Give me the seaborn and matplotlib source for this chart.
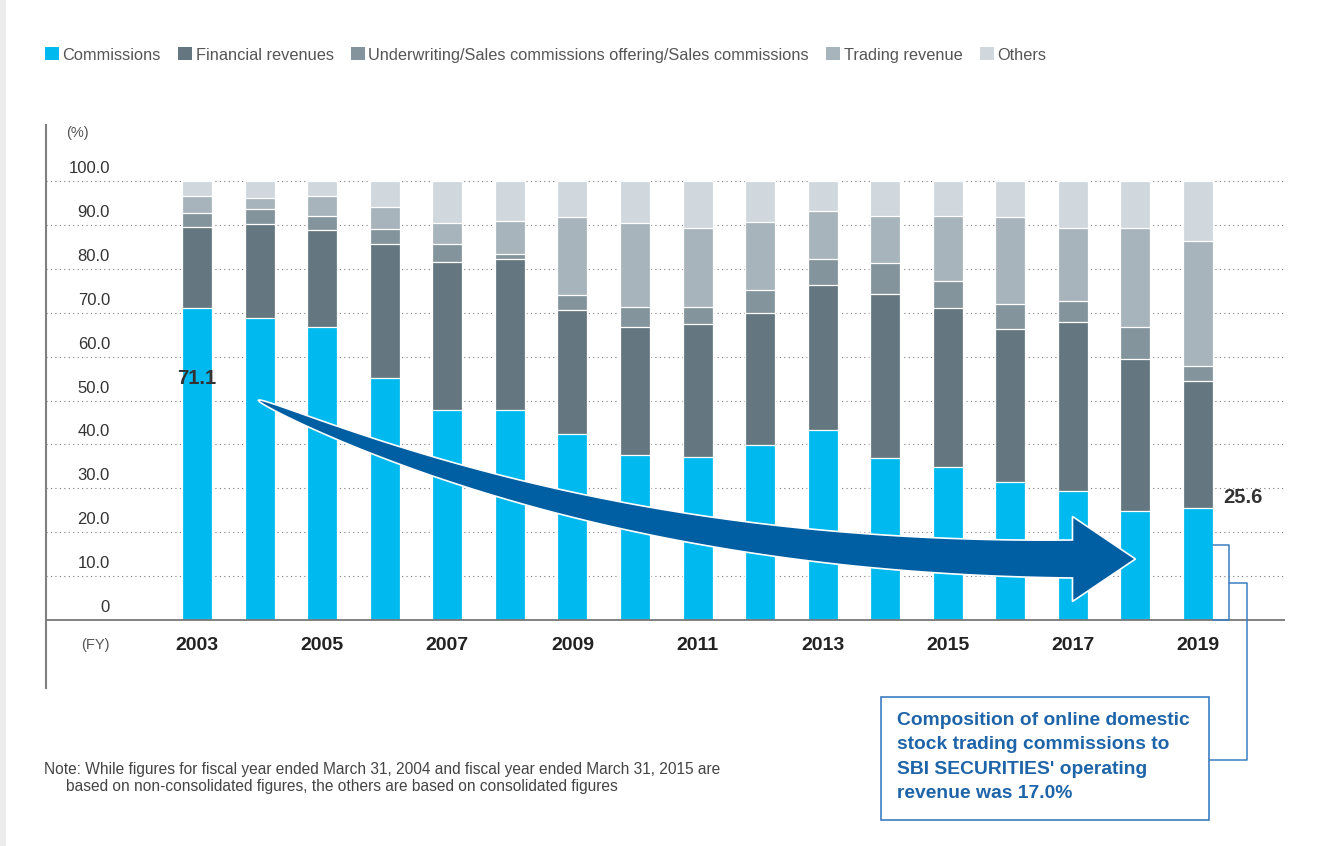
import numpy as np
import pandas as pd
import matplotlib
matplotlib.use("Agg")
import matplotlib.pyplot as plt
import matplotlib.transforms as mtransforms
from matplotlib.patches import Polygon, Rectangle, Patch
import seaborn as sns

# ---------------- data ----------------
years = [str(y) for y in range(2003, 2020)]
commissions = [71.1, 68.9, 66.7, 55.2, 47.9, 47.8, 42.3, 37.6, 37.2, 39.9, 43.3, 36.9, 34.8, 31.4, 29.5, 24.9, 25.6]
financial = [18.5, 21.4, 22.1, 30.5, 33.7, 34.5, 28.3, 29.2, 30.3, 30.1, 33.1, 37.4, 36.3, 35.0, 38.4, 34.6, 28.9]
underwriting = [3.1, 3.4, 3.3, 3.4, 4.0, 1.0, 3.4, 4.4, 3.9, 5.1, 5.9, 7.0, 6.2, 5.5, 4.8, 7.2, 3.4]
trading = [3.8, 2.5, 4.4, 5.0, 4.9, 7.7, 17.9, 19.2, 18.0, 15.5, 10.9, 10.8, 14.8, 20.0, 16.6, 22.7, 28.5]
others = [3.5, 3.8, 3.5, 5.9, 9.5, 9.0, 8.1, 9.6, 10.6, 9.4, 6.8, 7.9, 7.9, 8.1, 10.7, 10.6, 13.6]

series_names = ["Commissions", "Financial revenues",
                "Underwriting/Sales commissions offering/Sales commissions",
                "Trading revenue", "Others"]
series_colors = ["#00B9EE", "#647780", "#84949C", "#A8B4BB", "#D0D8DD"]

y_ticks = [0, 10, 20, 30, 40, 50, 60, 70, 80, 90, 100]
y_tick_labels = ["0", "10.0", "20.0", "30.0", "40.0", "50.0", "60.0", "70.0", "80.0", "90.0", "100.0"]
x_tick_years = ["2003", "2005", "2007", "2009", "2011", "2013", "2015", "2017", "2019"]

online_share_2019 = 17.0
note_line1 = "Note: While figures for fiscal year ended March 31, 2004 and fiscal year ended March 31, 2015 are"
note_line2 = "based on non-consolidated figures, the others are based on consolidated figures"
box_text = ("Composition of online domestic\nstock trading commissions to\n"
            "SBI SECURITIES' operating\nrevenue was 17.0%")

# ---------------- style ----------------
sns.set_style("white")
plt.rcParams["font.family"] = ["Liberation Sans", "DejaVu Sans"]
NARROW = ["Liberation Sans Narrow", "Liberation Sans", "DejaVu Sans"]

W, H = 1319, 846
fig = plt.figure(figsize=(W / 100, H / 100), dpi=100)
fig.patch.set_facecolor("white")
fig.add_artist(Rectangle((0, 0), 6 / W, 1, transform=fig.transFigure,
                         facecolor="#ececec", edgecolor="none", zorder=-1))

ax = fig.add_axes([46 / W, (H - 688) / H, (1285 - 46) / W, (688 - 125) / H])
ax.set_facecolor("none")

df = pd.DataFrame({"year": years, series_names[0]: commissions, series_names[1]: financial,
                   series_names[2]: underwriting, series_names[3]: trading,
                   series_names[4]: others})
cum = df[series_names].cumsum(axis=1)

BAR_W = 0.48
for name, col in reversed(list(zip(series_names, series_colors))):
    sns.barplot(x=df["year"], y=cum[name], color=col, width=BAR_W, saturation=1,
                errorbar=None, edgecolor="white", linewidth=0.9, ax=ax, zorder=2)

ax.set_xlim(-2.414, 17.39)
ax.set_ylim(-15.49, 112.76)

# grid & baseline
for v in y_ticks[1:]:
    ax.axhline(v, color="#7a7a7a", lw=0.8, ls=(0, (1, 3)), zorder=0.5)
ax.axhline(0, color="#777777", lw=1.3, zorder=3)

for s in ["top", "right", "bottom"]:
    ax.spines[s].set_visible(False)
ax.spines["left"].set_color("#808080")
ax.spines["left"].set_linewidth(1.5)

# y ticks
ax.set_yticks(y_ticks, y_tick_labels)
ax.tick_params(axis="y", length=0, pad=0, labelsize=12, labelcolor="#333333")
for t in ax.yaxis.get_major_ticks():
    t.label1.set_fontfamily(NARROW)
    t.label1.set_transform(t.label1.get_transform() +
                           mtransforms.ScaledTranslation(64 / 100, 14 / 100, fig.dpi_scale_trans))

# x ticks
xpos = [years.index(y) for y in x_tick_years]
ax.set_xticks(xpos, x_tick_years)
ax.set_xlabel("")
ax.set_ylabel("")
ax.tick_params(axis="x", length=0, pad=0, labelsize=14, labelcolor="#222222")
for t in ax.xaxis.get_major_ticks():
    t.label1.set_fontfamily(NARROW)
    t.label1.set_fontweight("bold")
    t.label1.set_verticalalignment("center")
    t.label1.set_transform(t.label1.get_transform() +
                           mtransforms.ScaledTranslation(0, 43 / 100, fig.dpi_scale_trans))

fig.text(77 / W, 1 - 133 / H, "(%)", ha="center", va="center", fontsize=10.5, color="#555555",
         family=NARROW)
fig.text(95 / W, 1 - 645 / H, "(FY)", ha="center", va="center", fontsize=10.5, color="#555555",
         family=NARROW)

# legend
handles = [Patch(facecolor=c, edgecolor="none", label=n) for n, c in zip(series_names, series_colors)]
fig.legend(handles=handles, loc="center left", bbox_to_anchor=(45 / W, 1 - 55 / H), ncol=5,
           frameon=False, fontsize=11.8, handlelength=0.85, handleheight=0.85,
           handletextpad=0.22, columnspacing=1.05, borderpad=0, borderaxespad=0,
           labelcolor="#555555")

# value labels
ax.text(0, 55.1, f"{commissions[0]:.1f}", ha="center", va="center", fontsize=14.5,
        fontweight="bold", color="#333333", zorder=6)
ax.text(16.72, 27.8, f"{commissions[-1]:.1f}", ha="center", va="center", fontsize=14.5,
        fontweight="bold", color="#333333", zorder=6)

# big curved arrow (decoration)
ARROW_START = (0.975, 50.1)
ARROW_TIP = (15.0, 13.9)
p0 = ax.transData.transform(ARROW_START)
tip = ax.transData.transform(ARROW_TIP)
head_len, head_w, shaft_w = 63, 85, 38
p2 = tip - np.array([head_len, 0])
p1 = np.array([p0[0] + 0.44 * (p2[0] - p0[0]), p2[1]])
t = np.linspace(0, 1, 300)[:, None]
curve = (1 - t) ** 2 * p0 + 2 * t * (1 - t) * p1 + t ** 2 * p2
deriv = 2 * (1 - t) * (p1 - p0) + 2 * t * (p2 - p1)
nrm = np.hstack([-deriv[:, 1:2], deriv[:, 0:1]])
nrm /= np.linalg.norm(nrm, axis=1, keepdims=True)
wid = shaft_w * np.sqrt(t) / 2
upper = curve + nrm * wid
lower = curve - nrm * wid
poly = np.vstack([upper, [p2 + [0, head_w / 2]], [tip], [p2 - [0, head_w / 2]], lower[::-1]])
fig.add_artist(Polygon(poly, closed=True, transform=mtransforms.IdentityTransform(),
                       facecolor="#005EA2", edgecolor="white", lw=1.2, zorder=4))

# bracket and callout
BLUE_LINE = "#3B7DC0"
bx0 = len(years) - 1 + BAR_W / 2
bx1 = 16.5
bx2 = 16.78
ax.plot([bx0, bx1, bx1, bx0], [online_share_2019, online_share_2019, 0, 0], color=BLUE_LINE,
        lw=1.1, clip_on=False, zorder=5)
ax.plot([bx1, bx2, bx2, 16.18], [online_share_2019 / 2, online_share_2019 / 2, -31.9, -31.9],
        color=BLUE_LINE, lw=1.1, clip_on=False, zorder=5)
fig.add_artist(Rectangle((881 / W, 1 - 820 / H), (1209 - 881) / W, (820 - 697) / H,
                         transform=fig.transFigure, facecolor="white", edgecolor=BLUE_LINE,
                         lw=1.2, zorder=5))
fig.text(897 / W, 1 - 712 / H, box_text, ha="left", va="top", fontsize=13.9, fontweight="bold",
         color="#1E64A8", linespacing=1.56, zorder=6)

# note
fig.text(44 / W, 1 - 769 / H, note_line1, ha="left", va="center", fontsize=11.2, color="#444444",
         family=NARROW)
fig.text(66 / W, 1 - 786 / H, note_line2, ha="left", va="center", fontsize=11.2, color="#444444",
         family=NARROW)

fig.savefig("out.png", dpi=100, facecolor="white")
